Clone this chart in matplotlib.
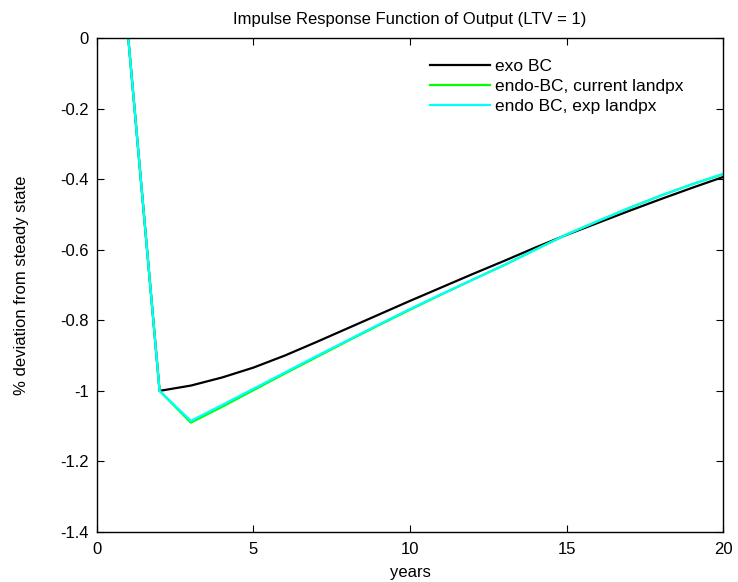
import matplotlib
matplotlib.use('Agg')
import matplotlib.pyplot as plt
from matplotlib.ticker import FormatStrFormatter

plt.rcParams['font.family'] = ['Liberation Sans', 'DejaVu Sans']
plt.rcParams['axes.unicode_minus'] = False

years = list(range(1, 21))
exo_bc = [0.0, -1.0, -0.985, -0.962, -0.934, -0.900, -0.862, -0.823, -0.784, -0.745,
          -0.707, -0.669, -0.632, -0.594, -0.558, -0.524, -0.490, -0.457, -0.425, -0.394]
endo_current = [0.0, -1.0, -1.090, -1.045, -0.998, -0.951, -0.905, -0.859, -0.814, -0.770,
                -0.727, -0.685, -0.644, -0.600, -0.557, -0.519, -0.482, -0.447, -0.415, -0.386]
endo_exp = [0.0, -1.0, -1.085, -1.040, -0.994, -0.948, -0.902, -0.857, -0.812, -0.768,
            -0.726, -0.685, -0.644, -0.600, -0.557, -0.519, -0.482, -0.447, -0.415, -0.385]

fig = plt.figure(figsize=(7.38, 5.82), dpi=100)
ax = fig.add_axes([0.1314, 0.0859, 0.8483, 0.8488])

ax.plot(years, exo_bc, color='black', lw=1.6, label='exo BC')
ax.plot(years, endo_current, color='#00ff00', lw=1.6, label='endo-BC, current landpx')
ax.plot(years, endo_exp, color='cyan', lw=1.6, label='endo BC, exp landpx')

ax.set_xlim(0, 20)
ax.set_ylim(-1.4, 0)
ax.set_xticks([0, 5, 10, 15, 20])
ax.set_yticks([-1.4, -1.2, -1.0, -0.8, -0.6, -0.4, -0.2, 0])
ax.yaxis.set_major_formatter(FormatStrFormatter('%g'))
ax.tick_params(direction='in', top=True, right=True, labelsize=12, length=5)
ax.tick_params(axis='x', pad=7)
ax.tick_params(axis='y', pad=6)
for s in ax.spines.values():
    s.set_linewidth(1.0)

ax.set_title('Impulse Response Function of Output (LTV = 1)', fontsize=12, pad=10)
ax.set_xlabel('years', fontsize=12, labelpad=6)
ax.set_ylabel('% deviation from steady state', fontsize=12, labelpad=22)

ax.legend(loc='upper left', bbox_to_anchor=(0.532, 0.957), frameon=False,
          borderpad=0, borderaxespad=0,
          fontsize=12.5, handlelength=3.45, labelspacing=0.26, handletextpad=0.3)

fig.savefig('out.png', dpi=100)
